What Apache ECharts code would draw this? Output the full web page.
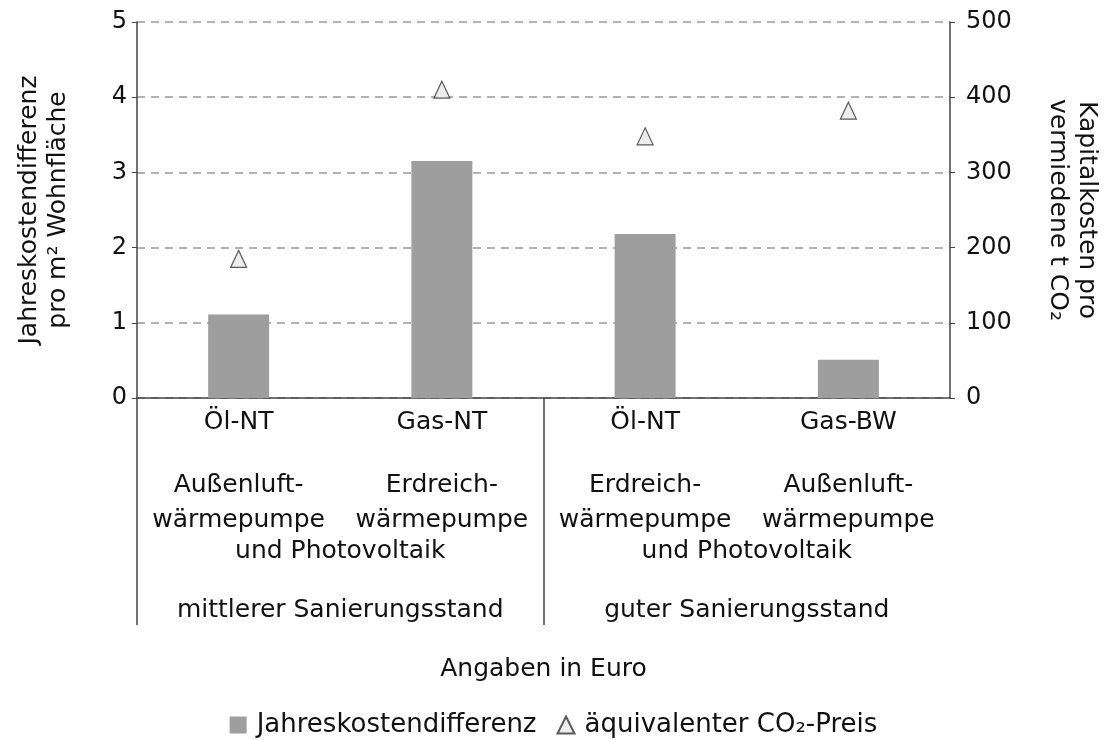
<!DOCTYPE html>
<html>
<head>
<meta charset="utf-8">
<script src="https://cdn.jsdelivr.net/npm/echarts@6/dist/echarts.min.js"></script>
<style>
  html, body { margin: 0; padding: 0; background: #fff; }
  #main { width: 1107px; height: 740px; }
</style>
</head>
<body>
<div id="main"></div>
<script>
// Daten
var categories = ['Öl-NT', 'Gas-NT', 'Öl-NT', 'Gas-BW'];
var systems = [['Außenluft-', 'wärmepumpe'], ['Erdreich-', 'wärmepumpe'], ['Erdreich-', 'wärmepumpe'], ['Außenluft-', 'wärmepumpe']];
var groups = ['mittlerer Sanierungsstand', 'guter Sanierungsstand'];
var groupNotes = ['und Photovoltaik', 'und Photovoltaik'];
var kostenDiff = [1.11, 3.15, 2.18, 0.51];
var co2Preis = [185, 410, 348, 382];

var FONT = 'DejaVu Sans';
var myChart = echarts.init(document.getElementById('main'));

myChart.setOption({
    animation: false,
    textStyle: { fontFamily: FONT, color: '#111' },
    legend: {
        top: 707,
        left: 'center',
        itemWidth: 17,
        itemHeight: 17,
        itemGap: 20,
        textStyle: { fontFamily: FONT, fontSize: 26, color: '#111', padding: [0, 0, 0, 5] },
        data: [
            { name: 'Jahreskostendifferenz', icon: 'rect' },
            { name: 'äquivalenter CO₂-Preis', icon: 'triangle' }
        ]
    },
    grid: [
        { left: 137, right: 157, top: 22, height: 376, outerBoundsMode: 'none', containLabel: false },
        { left: 137, right: 157, top: 398, height: 227, outerBoundsMode: 'none', containLabel: false }
    ],
    xAxis: [
        {
            type: 'category',
            gridIndex: 0,
            data: categories,
            axisLine: { lineStyle: { color: '#444', width: 1.5 } },
            axisTick: { show: false },
            axisLabel: {
                margin: 11,
                interval: 0,
                formatter: function (v, i) {
                    return '{a|' + v + '}\n{gap|}\n{b|' + systems[i][0] + '}\n{b|' + systems[i][1] + '}';
                },
                rich: {
                    a: { fontFamily: FONT, fontSize: 25, lineHeight: 26, color: '#111' },
                    gap: { lineHeight: 33 },
                    b: { fontFamily: FONT, fontSize: 25, lineHeight: 35, color: '#111' }
                }
            }
        },
        {
            type: 'category',
            gridIndex: 1,
            position: 'bottom',
            data: groups,
            axisLine: { show: false },
            axisTick: { show: false },
            splitLine: { show: true, showMinLine: true, showMaxLine: false, lineStyle: { color: '#444', width: 1.5, type: 'solid' } },
            axisLabel: {
                inside: true,
                margin: 0,
                interval: 0,
                formatter: function (v, i) {
                    return '{c|' + groupNotes[i] + '}\n{gap|}\n{d|' + v + '}';
                },
                rich: {
                    c: { fontFamily: FONT, fontSize: 25, lineHeight: 30, color: '#111' },
                    gap: { lineHeight: 29 },
                    d: { fontFamily: FONT, fontSize: 25, lineHeight: 30, color: '#111' }
                }
            },
            name: 'Angaben in Euro',
            nameLocation: 'middle',
            nameGap: 32,
            nameTextStyle: { fontFamily: FONT, fontSize: 25, color: '#111' }
        }
    ],
    yAxis: [
        {
            type: 'value',
            gridIndex: 0,
            min: 0,
            max: 5,
            interval: 1,
            name: 'Jahreskostendifferenz\npro m² Wohnfläche',
            nameLocation: 'middle',
            nameGap: 64,
            nameTextStyle: { fontFamily: FONT, fontSize: 25, lineHeight: 29, color: '#111' },
            axisLine: { show: true, lineStyle: { color: '#444', width: 1.5 } },
            axisTick: { show: true, length: 5, lineStyle: { color: '#444' } },
            axisLabel: { margin: 10, fontFamily: FONT, fontSize: 24, color: '#111' },
            splitLine: { show: true, lineStyle: { color: '#999', width: 1.5, type: [8, 6] } }
        },
        {
            type: 'value',
            gridIndex: 0,
            position: 'right',
            min: 0,
            max: 500,
            interval: 100,
            name: 'Kapitalkosten pro\nvermiedene t CO₂',
            nameLocation: 'middle',
            nameRotate: -90,
            nameGap: 93,
            nameTextStyle: { fontFamily: FONT, fontSize: 25, lineHeight: 29, color: '#111' },
            axisLine: { show: true, lineStyle: { color: '#444', width: 1.5 } },
            axisTick: { show: true, length: 5, lineStyle: { color: '#444' } },
            axisLabel: { margin: 16, fontFamily: FONT, fontSize: 24, color: '#111' },
            splitLine: { show: false }
        },
        {
            type: 'value',
            gridIndex: 1,
            show: false
        }
    ],
    series: [
        {
            name: 'Jahreskostendifferenz',
            type: 'bar',
            xAxisIndex: 0,
            yAxisIndex: 0,
            barWidth: '30%',
            itemStyle: { color: '#9e9e9e' },
            data: kostenDiff
        },
        {
            name: 'äquivalenter CO₂-Preis',
            type: 'scatter',
            xAxisIndex: 0,
            yAxisIndex: 1,
            symbol: 'triangle',
            symbolSize: [16, 17],
            itemStyle: { color: '#e8e8e8', borderColor: '#333', borderWidth: 1.2 },
            data: co2Preis
        }
    ]
});
</script>
</body>
</html>
